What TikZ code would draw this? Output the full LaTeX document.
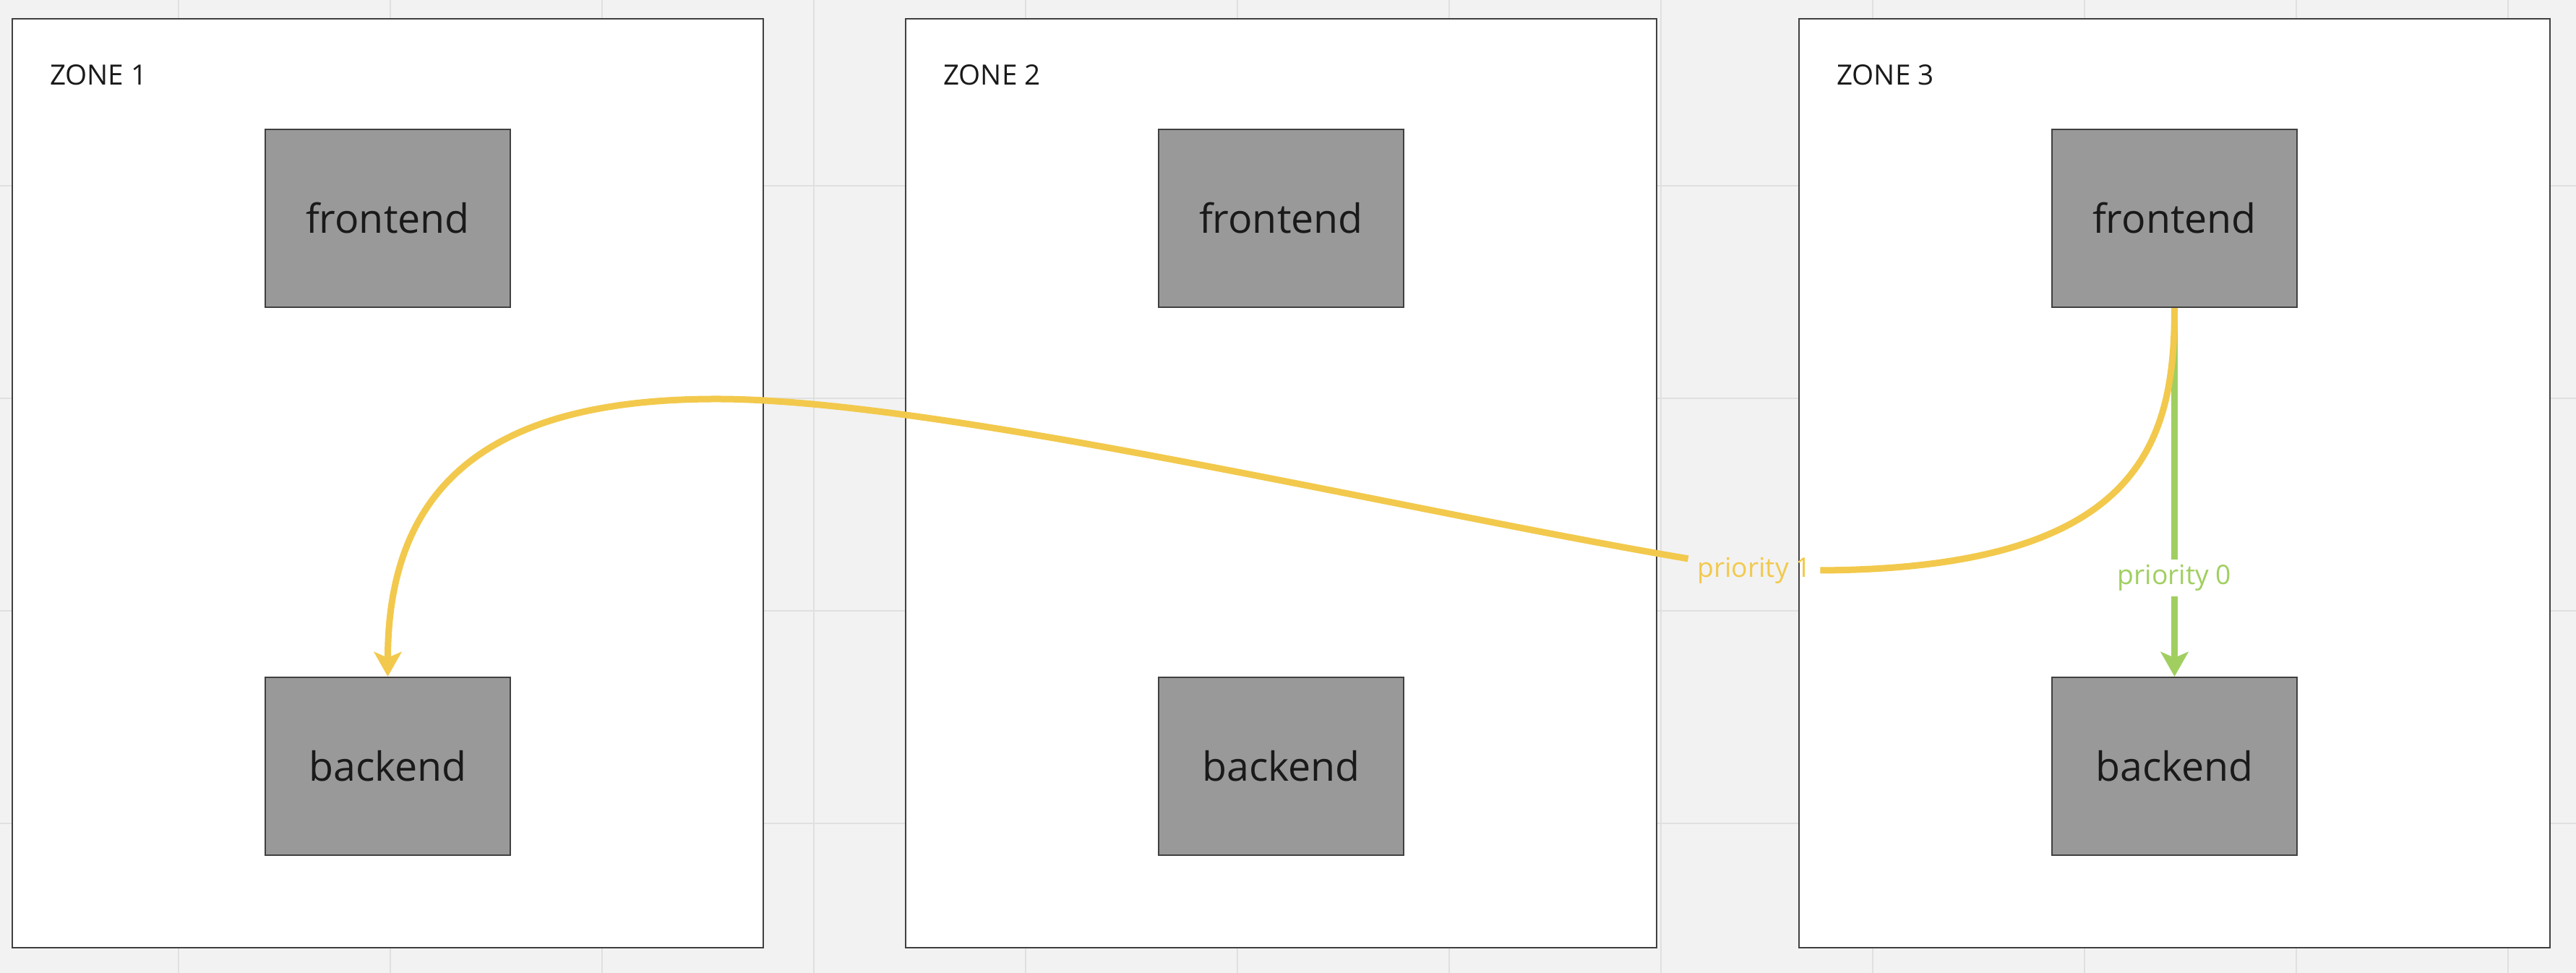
\documentclass[tikz,border=0pt]{standalone}
\usepackage[rgb]{xcolor}
\usepackage{fontspec}
\setmainfont{Open Sans}
\usepackage{tikz}
\usetikzlibrary{arrows.meta}

\definecolor{boardgray}{HTML}{F2F2F2}
\definecolor{gridgray}{HTML}{E0E0E0}
\definecolor{boxgray}{HTML}{999999}
\definecolor{edgegray}{HTML}{404040}
\definecolor{inkgray}{HTML}{1A1A1A}
\definecolor{prioyellow}{HTML}{F2C94C}
\definecolor{priogreen}{HTML}{A0CF60}

\begin{document}
\begin{tikzpicture}[>={Stealth[length=3.4mm, width=3.8mm, inset=0.8mm]},
	zone/.style={draw=edgegray, line width=0.4pt, fill=white, minimum width=10.39cm, minimum height=12.85cm, inner sep=0pt},
	zonelabel/.style={anchor=base west, text=inkgray, inner sep=0pt, font=\fontsize{11}{13}\selectfont},
	svc/.style={draw=edgegray, line width=0.6pt, fill=boxgray, minimum width=3.39cm, minimum height=2.46cm, inner sep=0pt, text=inkgray, font=\fontsize{15.8}{19}\selectfont},
	route/.style={line width=0.09cm},
	prio/.style={inner xsep=0.12cm, inner ysep=0.07cm, font=\fontsize{10.6}{12}\selectfont}]


	% board and grid
	\fill[boardgray] (0,0) rectangle (35.64,13.46);
	\useasboundingbox (0,0) rectangle (35.64,13.46);
	\foreach \x in {0,...,11} {
		\draw[gridgray, line width=0.02cm] ({2.47+2.93*\x},0) -- ++(0,13.46);
	}
	\foreach \y in {2.07,5.01,7.95,10.89} {
		\draw[gridgray, line width=0.02cm] (0,\y) -- ++(35.64,0);
	}


	% zones with their services
	\foreach \i/\x in {1/5.365,2/17.725,3/30.085} {
		\node[zone] (z\i) at (\x,6.775) {};
		\node[zonelabel] (l\i) at ([xshift=0.52cm, yshift=-0.92cm]z\i.north west) {ZONE \i};
		\node[svc] (fe\i) at (\x,10.44) {frontend};
		\node[svc] (be\i) at (\x,2.86) {backend};
	}


	% routes
	\node[prio, text=priogreen] (p0) at (30.085,5.465) {priority 0};
	\node[prio, text=prioyellow] (p1) at (24.27,5.57) {priority 1};

	\draw[route, priogreen] (fe3.south) -- (p0.north);
	\draw[route, priogreen, ->] (p0.south) -- (be3.north);

	\draw[route, prioyellow] (fe3.south) .. controls (30.085,7.34) and (29.63,5.59) .. (p1.east);
	\draw[route, prioyellow, ->] (p1.170) .. controls (19.5,6.38) and (13.0,7.94) .. (9.91,7.94)
		.. controls (6.81,7.94) and (5.365,6.78) .. (be1.north);


\end{tikzpicture}
\end{document}
